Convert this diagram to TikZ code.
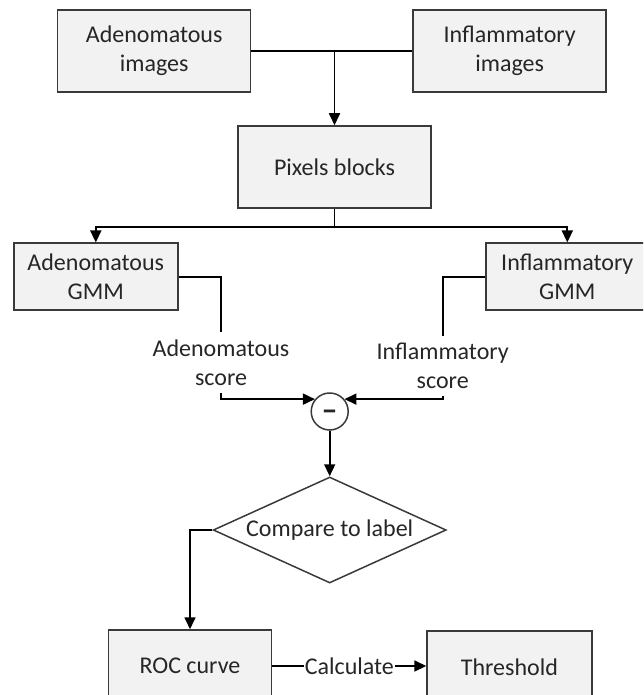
\documentclass[tikz,border=0pt]{standalone}
\usepackage{fontspec}
\setmainfont{Carlito}
\usetikzlibrary{arrows.meta,shapes.geometric}
\definecolor{boxline}{HTML}{3A3A3A}
\definecolor{txt}{HTML}{262626}
\definecolor{boxfill}{HTML}{F2F2F2}
\begin{document}
\begin{tikzpicture}[x=1pt,y=-1pt,
  font=\fontsize{24}{29}\selectfont,
  every node/.style={text=txt},
  procbox/.style={draw=boxline,line width=1.5pt,fill=boxfill,align=center,inner sep=0pt},
  lbl/.style={align=center,inner xsep=0pt,inner ysep=7pt},
  conn/.style={line width=1.7pt,black},
  arr/.style={conn,-{Triangle[length=12pt,width=11pt]}}]
\useasboundingbox (0,0) rectangle (643,695);
\clip (0,0) rectangle (643,695);

\node[procbox,minimum width=193pt,minimum height=82pt] (ai) at (154.2,50.8) {Adenomatous\\images};
\node[procbox,minimum width=193pt,minimum height=82pt] (ii) at (509.7,50.8) {Inflammatory\\images};
\node[procbox,minimum width=193pt,minimum height=82pt] (pb) at (334.5,167) {Pixels blocks};
\node[procbox,minimum width=164pt,minimum height=67pt] (ag) at (95.8,276.7) {Adenomatous\\GMM};
\node[procbox,minimum width=163pt,minimum height=67pt] (ig) at (567.3,276.7) {Inflammatory\\GMM};
\node[lbl] (as) at (221,362.5) {Adenomatous\\score};
\node[lbl] (is) at (442.7,366.3) {Inflammatory\\score};
\node[draw=boxline,line width=1.5pt,fill=white,circle,minimum size=37pt,inner sep=0pt,text height=0pt,text depth=0pt] (minus) at (329.7,411.5) {\fontsize{32}{32}\selectfont\bfseries\raisebox{-9pt}{–}};
\node[draw=boxline,line width=1.5pt,fill=white,diamond,aspect=2.2,inner sep=0pt,minimum width=233pt,minimum height=106pt] (cmp) at (329.7,530) {Compare to label};
\node[procbox,minimum width=163.4pt,minimum height=72pt] (roc) at (190,666) {ROC curve};
\node[procbox,minimum width=164.7pt,minimum height=72pt] (thr) at (509.4,667) {Threshold};

\coordinate (split) at (334.5,226.7);

\draw[conn] (ai.east) -- (ii.west);
\draw[arr] (pb.north |- ai.east) -- (pb.north);
\draw[conn] (pb.south) -- (split);
\draw[arr] (split) -| (ag.north);
\draw[arr] (split) -| (ig.north);
\draw[conn] (ag.east) -| (as.north);
\draw[conn] (ig.west) -| (is.north);
\draw[arr] (as.south) |- (minus.140);
\draw[arr] (is.south) |- (minus.40);
\draw[arr] (minus.south) -- (cmp.north);
\draw[arr] (cmp.west) -| (roc.north);
\draw[arr] (roc.east) -- node[fill=white,inner xsep=1pt,inner ysep=2pt] (calc) {Calculate} (thr.west |- roc.east);
\end{tikzpicture}
\end{document}
